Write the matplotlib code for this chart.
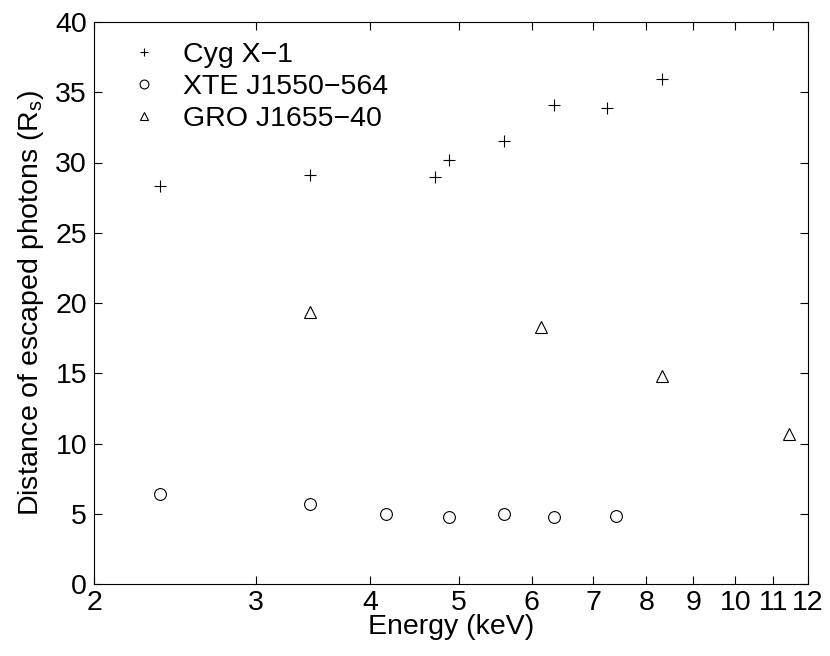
import matplotlib
matplotlib.use("Agg")
import matplotlib.pyplot as plt
from matplotlib.ticker import FixedLocator, FixedFormatter, NullLocator

plt.rcParams['font.family'] = ['Liberation Sans', 'DejaVu Sans']
plt.rcParams['mathtext.fontset'] = 'custom'
plt.rcParams['mathtext.rm'] = 'Liberation Sans'
plt.rcParams['mathtext.it'] = 'Liberation Sans'

# Data
cyg_E = [2.36, 3.44, 4.71, 4.88, 5.60, 6.34, 7.24, 8.32]
cyg_R = [28.3, 29.1, 29.0, 30.2, 31.5, 34.1, 33.85, 35.95]

xte_E = [2.36, 3.44, 4.16, 4.88, 5.60, 6.34, 7.42]
xte_R = [6.42, 5.66, 4.95, 4.74, 5.00, 4.79, 4.86]

gro_E = [3.44, 6.14, 8.32, 11.43]
gro_R = [19.35, 18.3, 14.8, 10.7]

xticks = [2, 3, 4, 5, 6, 7, 8, 9, 10, 11, 12]
yticks = [0, 5, 10, 15, 20, 25, 30, 35, 40]

fs = 20.5

fig = plt.figure(figsize=(8.3, 6.56), dpi=100)
ax = fig.add_axes([94/830, 1 - 584/656, (808 - 94)/830, (584 - 22)/656])

ms = 8.5
ax.plot(cyg_E, cyg_R, linestyle='none', marker='+', color='black', markersize=ms,
        markeredgewidth=0.8, label='Cyg X\u22121')
ax.plot(xte_E, xte_R, linestyle='none', marker='o', markerfacecolor='none',
        markeredgecolor='black', markersize=ms, markeredgewidth=0.8, label='XTE J1550\u2212564')
ax.plot(gro_E, gro_R, linestyle='none', marker='^', markerfacecolor='none',
        markeredgecolor='black', markersize=ms, markeredgewidth=0.8, label='GRO J1655\u221240')

ax.set_xscale('log')
ax.set_xlim(2, 12)
ax.set_ylim(0, 40)
ax.xaxis.set_major_locator(FixedLocator(xticks))
ax.xaxis.set_major_formatter(FixedFormatter([str(t) for t in xticks]))
ax.xaxis.set_minor_locator(NullLocator())
ax.set_yticks(yticks)
ax.set_yticklabels([str(t) for t in yticks])

ax.tick_params(axis='both', which='major', direction='in', length=6, width=0.8,
               top=True, right=True, labelsize=fs)
ax.tick_params(axis='y', pad=5)
ax.tick_params(axis='x', pad=4)
for s in ax.spines.values():
    s.set_linewidth(0.8)

ax.set_xlabel('Energy (keV)', fontsize=fs, labelpad=-1)
ax.set_ylabel(r'Distance of escaped photons (R$_\mathrm{s}$)', fontsize=fs, labelpad=7)

leg = ax.legend(loc='upper left', frameon=False, fontsize=fs, handlelength=1.0,
                handletextpad=0.88, labelspacing=0.22, borderaxespad=0.0,
                markerscale=0.75, bbox_to_anchor=(0.034, 0.985))

fig.savefig('out.png', dpi=100)
